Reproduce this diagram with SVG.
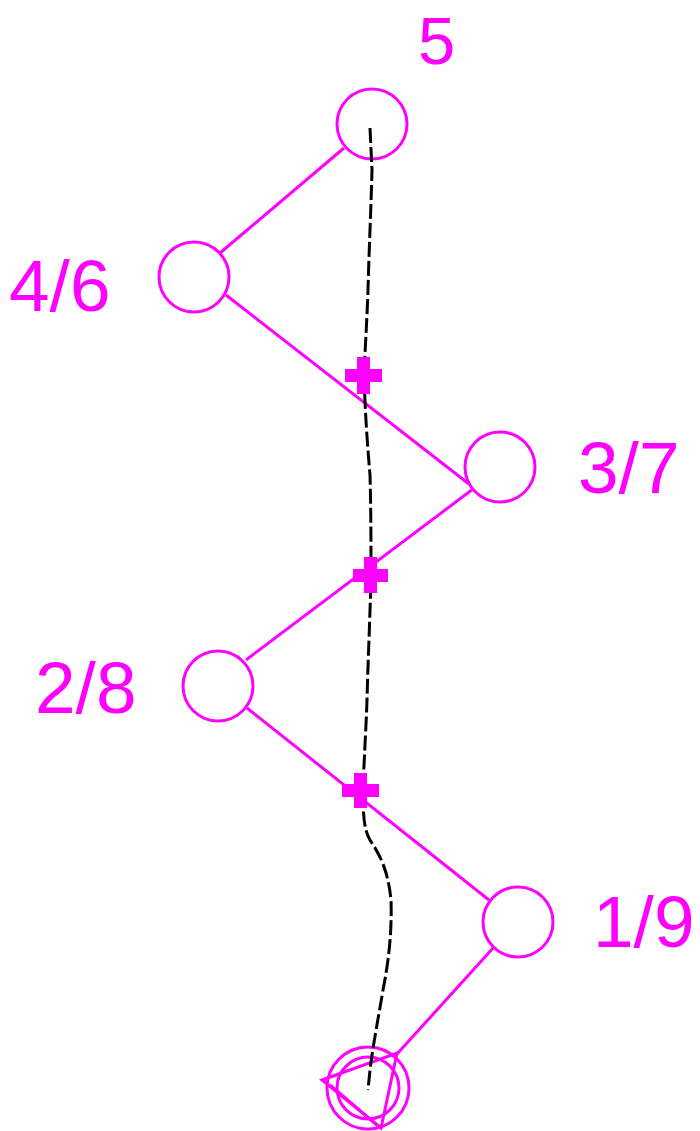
<svg xmlns="http://www.w3.org/2000/svg" width="700" height="1131" viewBox="0 0 700 1131">
<style>
.n{fill:none;stroke:#ff00ff;stroke-width:3}
.e{fill:none;stroke:#ff00ff;stroke-width:3}
.t{fill:#ff00ff;font-family:"Liberation Sans",Arial,sans-serif;font-size:73px}
.x{fill:#ff00ff}
.d{fill:none;stroke:#000;stroke-width:3;stroke-dasharray:15 4}
</style>
<rect width="700" height="1131" fill="#fff"/>
<g id="connectors">
<line class="e" x1="344" y1="148" x2="220" y2="253"/>
<line class="e" x1="226" y1="295" x2="469" y2="484"/>
<line class="e" x1="473" y1="489" x2="246" y2="660"/>
<line class="e" x1="247" y1="708" x2="489" y2="900"/>
<line class="e" x1="494" y1="947" x2="397" y2="1054"/>
</g>
<g id="n5"><circle class="n" cx="372" cy="124" r="35"/><text class="t" x="418" y="64" style="font-size:67px">5</text></g>
<g id="n46"><circle class="n" cx="194" cy="277" r="35"/><text class="t" x="9" y="311">4/6</text></g>
<g id="n37"><circle class="n" cx="500" cy="467" r="35"/><text class="t" x="578" y="493">3/7</text></g>
<g id="n28"><circle class="n" cx="218" cy="686" r="35"/><text class="t" x="35" y="713">2/8</text></g>
<g id="n19"><circle class="n" cx="518" cy="922" r="35"/><text class="t" x="593" y="947">1/9</text></g>
<g id="base">
<circle class="n" cx="368" cy="1088" r="41"/>
<circle class="n" cx="368" cy="1088" r="31"/>
<polygon class="n" points="322,1080 397,1053 381,1128"/>
<line class="n" x1="330" y1="1085" x2="378" y2="1126"/>
</g>
<g id="path">
<path class="d" d="M370 128 L372 170 C371 210 369 250 368 290 C367 320 365 350 364 375 C365 410 367 440 370 475 C371 510 371 545 371 575 C370 620 368 660 367 700 C366 730 364 760 363 790 C363 815 364 830 370 840 C380 855 388 870 391 900 C392 930 389 960 383 990 C378 1020 373 1045 370 1070 L368 1090"/>
</g>
<g id="marks">
<path class="x" d="M357 357h13v12h12v13h-12v12h-13v-12h-12v-13h12z"/>
<path class="x" d="M364 557h13v12h11v13h-11v11h-13v-11h-11v-13h11z"/>
<path class="x" d="M354 773h13v11h12v13h-12v11h-13v-11h-12v-13h12z"/>
</g>
</svg>
